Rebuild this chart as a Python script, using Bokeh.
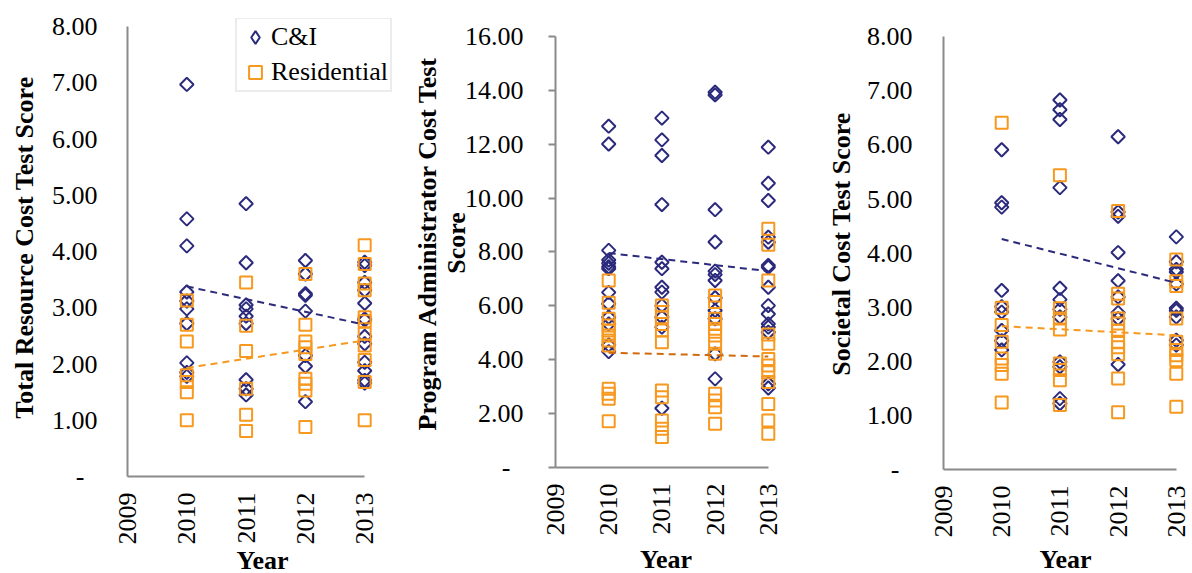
import math
from bokeh.plotting import figure
from bokeh.layouts import row
from bokeh.models import (Range1d, FixedTicker, CustomJSTickFormatter, Legend, LegendItem)
from bokeh.embed import file_html
from bokeh.resources import INLINE

# ---------------- data ----------------
years = [2010, 2011, 2012, 2013]
x_ticks = [2009, 2010, 2011, 2012, 2013]

# Panel 1: Total Resource Cost Test
trc_ci_2010 = [6.97, 4.58, 4.10, 3.28, 3.12, 2.98, 2.72, 2.02, 1.85, 1.78]
trc_ci_2011 = [4.85, 3.80, 3.05, 2.98, 2.85, 2.72, 1.72, 1.56, 1.45]
trc_ci_2012 = [3.84, 3.60, 3.25, 3.22, 2.94, 2.15, 1.96, 1.33]
trc_ci_2013 = [3.81, 3.75, 3.45, 3.31, 3.08, 2.80, 2.78, 2.49, 2.36, 2.03, 1.88, 1.71, 1.66]
trc_res_2010 = [3.13, 2.70, 2.40, 1.80, 1.68, 1.50, 1.00]
trc_res_2011 = [3.45, 2.68, 2.23, 1.56, 1.10, 0.81]
trc_res_2012 = [3.60, 2.70, 2.40, 2.30, 2.18, 1.74, 1.65, 1.53, 0.88]
trc_res_2013 = [4.11, 3.78, 3.43, 3.31, 2.83, 2.76, 2.54, 2.33, 2.07, 1.68, 1.00]
trc_trend_years = [2010, 2013]
trc_ci_trend = [3.38, 2.70]
trc_res_trend = [1.93, 2.42]

# Panel 2: Program Administrator Cost Test
pac_ci_2010 = [12.67, 12.01, 8.06, 7.70, 7.58, 7.45, 7.38, 6.50, 6.08, 5.58, 5.33, 4.55, 4.30]
pac_ci_2011 = [12.97, 12.16, 11.58, 9.76, 7.62, 7.38, 6.69, 6.51, 6.01, 5.58, 5.21, 2.20]
pac_ci_2012 = [13.93, 13.83, 9.57, 8.37, 7.29, 7.16, 6.94, 6.30, 5.83, 5.52, 4.22, 3.29]
pac_ci_2013 = [11.89, 10.55, 9.91, 8.55, 8.36, 7.50, 7.43, 6.69, 6.01, 5.70, 5.33, 5.21, 5.02, 3.11, 2.95]
pac_res_2010 = [6.94, 6.12, 5.52, 5.27, 5.09, 4.90, 4.71, 4.53, 2.92, 2.74, 2.55, 1.72]
pac_res_2011 = [6.01, 5.77, 5.58, 5.33, 5.09, 4.65, 2.86, 2.61, 1.74, 1.44, 1.13]
pac_res_2012 = [6.38, 6.14, 5.52, 5.33, 5.15, 4.90, 4.59, 4.22, 2.74, 2.49, 2.24, 1.62]
pac_res_2013 = [8.86, 8.27, 6.94, 4.94, 4.59, 4.03, 3.79, 3.54, 3.17, 2.36, 1.74, 1.25]
pac_trend_years = [2010, 2013]
pac_ci_trend = [7.96, 7.29]
pac_res_trend = [4.26, 4.12]

# Panel 3: Societal Cost Test
sct_ci_2010 = [5.91, 4.93, 4.85, 3.31, 3.01, 2.91, 2.57, 2.38, 2.21]
sct_ci_2011 = [6.83, 6.65, 6.47, 5.21, 3.35, 3.14, 2.96, 2.82, 1.99, 1.90, 1.31, 1.22]
sct_ci_2012 = [6.15, 4.76, 4.68, 4.01, 3.49, 3.19, 2.90, 2.79, 1.94]
sct_ci_2013 = [4.30, 3.84, 3.70, 3.65, 3.43, 2.98, 2.94, 2.82, 2.39, 2.30]
sct_res_2010 = [6.41, 2.99, 2.67, 2.36, 2.05, 1.93, 1.77, 1.24]
sct_res_2011 = [5.44, 2.98, 2.79, 2.59, 1.96, 1.84, 1.65, 1.19]
sct_res_2012 = [4.78, 3.25, 3.16, 2.79, 2.70, 2.56, 2.36, 2.26, 2.13, 1.68, 1.06]
sct_res_2013 = [3.88, 3.48, 3.39, 2.79, 2.36, 2.21, 2.11, 2.02, 1.77, 1.16]
sct_trend_years = [2010, 2013]
sct_ci_trend = [4.26, 3.45]
sct_res_trend = [2.65, 2.48]

y_title_1 = "Total Resource Cost Test Score"
y_title_2 = "Program Administrator Cost Test\nScore"
y_title_3 = "Societal Cost Test Score"
x_title = "Year"
series_names = ["C&I", "Residential"]

# ---------------- style ----------------
NAVY = "#2B2A7C"
ORANGE = "#F7981F"
ORANGE_DARK = "#D06A0C"
AXIS_GRAY = "#8A8A8A"
FONT = "Liberation Serif"
TOP = 18  # common top border of the row (frames are aligned)


def flatten(groups):
    xs, ys = [], []
    for yr, vals in zip(years, groups):
        xs += [yr] * len(vals)
        ys += vals
    return xs, ys


def make_panel(fw, fh, b_left, b_right, xend, ymax_axis, yend, ystep,
               ci_groups, res_groups, trend_x, ci_trend, res_trend, res_trend_color,
               ytitle, ytick_out, ylabel_standoff, ytitle_standoff, xtitle_standoff):
    p = figure(frame_width=fw, frame_height=fh, output_backend="svg", toolbar_location=None,
               x_range=Range1d(2009, xend), y_range=Range1d(0, yend),
               min_border_left=b_left, min_border_right=b_right,
               min_border_top=TOP, min_border_bottom=40)
    p.outline_line_color = None
    p.grid.visible = False
    p.background_fill_color = "white"
    p.border_fill_color = "white"

    xa = p.xaxis[0]
    xa.ticker = FixedTicker(ticks=x_ticks)
    xa.formatter = CustomJSTickFormatter(code="return tick.toFixed(0);")
    xa.bounds = (2009, 2013)
    xa.major_label_orientation = math.pi / 2
    xa.major_tick_out = 0
    xa.major_tick_in = 0
    xa.minor_tick_out = 0
    xa.minor_tick_in = 0
    xa.major_label_standoff = 16
    xa.axis_label = x_title
    xa.axis_label_standoff = xtitle_standoff
    xa.axis_label_text_line_height = 1.0

    ya = p.yaxis[0]
    ya.ticker = FixedTicker(ticks=[i * ystep for i in range(int(round(ymax_axis / ystep)) + 1)])
    ya.formatter = CustomJSTickFormatter(
        code="return tick == 0 ? '-\\u00a0\\u00a0' : tick.toFixed(2);")
    ya.bounds = (0, ymax_axis)
    ya.major_tick_out = ytick_out
    ya.major_tick_in = 0
    ya.minor_tick_out = 0
    ya.minor_tick_in = 0
    ya.major_label_standoff = ylabel_standoff
    ya.axis_label = ytitle
    ya.axis_label_standoff = ytitle_standoff
    ya.axis_label_text_line_height = 1.0

    for ax in (xa, ya):
        ax.axis_line_color = AXIS_GRAY
        ax.axis_line_width = 2
        ax.major_tick_line_color = AXIS_GRAY
        ax.major_tick_line_width = 2
        ax.major_label_text_font = FONT
        ax.major_label_text_font_size = "26px"
        ax.major_label_text_color = "black"
        ax.axis_label_text_font = FONT
        ax.axis_label_text_font_size = "26px"
        ax.axis_label_text_font_style = "bold"
        ax.axis_label_text_color = "black"

    cx, cy = flatten(ci_groups)
    rx, ry = flatten(res_groups)
    r_ci = p.scatter(cx, cy, marker="square", angle=math.pi / 4, size=9.5,
                     fill_color=None, line_color=NAVY, line_width=2)
    r_res = p.scatter(rx, ry, marker="square", size=12,
                      fill_color=None, line_color=ORANGE, line_width=2)
    p.line(trend_x, ci_trend, line_color=NAVY, line_width=2, line_dash="7 5")
    p.line(trend_x, res_trend, line_color=res_trend_color, line_width=2, line_dash="7 5")
    return p, r_ci, r_res, (cx, cy), (rx, ry)


# panel 1: 59.3 px/year, 56.25 px/unit, frame 18..476 (extra room keeps the legend unclipped)
p1, r1c, r1r, ci1, res1 = make_panel(
    270, 458, 127, 0, 2009 + 270 / 59.3, 8, 458 / 56.25, 1,
    [trc_ci_2010, trc_ci_2011, trc_ci_2012, trc_ci_2013],
    [trc_res_2010, trc_res_2011, trc_res_2012, trc_res_2013],
    trc_trend_years, trc_ci_trend, trc_res_trend, ORANGE,
    y_title_1, 0, 30, 10, -2)
# panel 2: 53.2 px/year, 26.94 px/unit, frame 18..467
p2, r2c, r2r, _, _ = make_panel(
    221, 449, 158, 20, 2009 + 221 / 53.2, 16, 449 / 26.94, 2,
    [pac_ci_2010, pac_ci_2011, pac_ci_2012, pac_ci_2013],
    [pac_res_2010, pac_res_2011, pac_res_2012, pac_res_2013],
    pac_trend_years, pac_ci_trend, pac_res_trend, ORANGE_DARK,
    y_title_2, 7, 25, -9, 6)
# panel 3: 58.2 px/year, 54.1 px/unit, frame 18..469
p3, r3c, r3r, _, _ = make_panel(
    244, 451, 147, 5, 2009 + 244 / 58.2, 8, 451 / 54.1, 1,
    [sct_ci_2010, sct_ci_2011, sct_ci_2012, sct_ci_2013],
    [sct_res_2010, sct_res_2011, sct_res_2012, sct_res_2013],
    sct_trend_years, sct_ci_trend, sct_res_trend, ORANGE,
    y_title_3, 0, 31, 8, 4)

# hidden legend-only renderers (same data) so that the legend shows a diamond and a square
leg_ci = p1.scatter(ci1[0], ci1[1], marker="diamond", size=12, visible=False,
                    fill_color=None, line_color=NAVY, line_width=2)
leg_res = p1.scatter(res1[0], res1[1], marker="square", size=12, visible=False,
                     fill_color=None, line_color=ORANGE, line_width=2)

legend = Legend(items=[LegendItem(label=series_names[0], renderers=[leg_ci]),
                       LegendItem(label=series_names[1], renderers=[leg_res])],
                location=(108, 384))
legend.border_line_color = "#D9D9D9"
legend.border_line_width = 2
legend.background_fill_color = "white"
legend.background_fill_alpha = 1
legend.inactive_fill_alpha = 0
legend.label_text_font = FONT
legend.label_text_font_size = "26px"
legend.label_text_color = "black"
legend.glyph_width = 32
legend.glyph_height = 32
legend.label_standoff = -3
legend.padding = 2
legend.spacing = 3
legend.margin = 0
p1.add_layout(legend)

layout = row(p1, p2, p3)
open("out.html", "w").write(file_html(layout, INLINE))
